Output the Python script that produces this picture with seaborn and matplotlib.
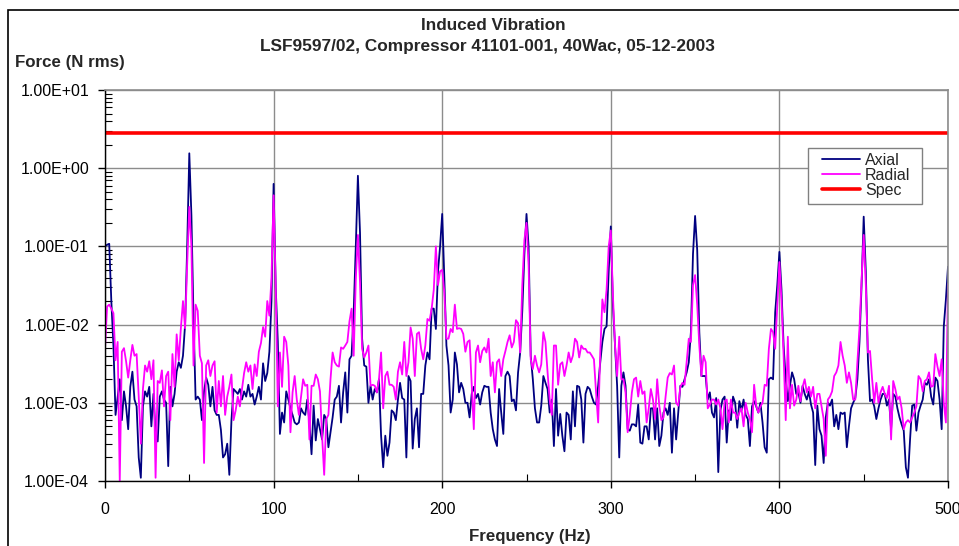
import numpy as np
import matplotlib
matplotlib.use("Agg")
import matplotlib.pyplot as plt
from matplotlib.patches import Rectangle
from matplotlib.ticker import FixedLocator, LogLocator, FuncFormatter, NullFormatter
import seaborn as sns

# frequency bins, 1.25 Hz resolution (0..500 Hz)
freq = np.linspace(0, 500, 401)

# Axial force (N rms)
axial = [
    # 0 - 48.75 Hz
    0.1, 0.105, 0.108, 0.02, 0.0054, 0.0007, 0.0012, 0.002, 0.0006, 0.0014,
    0.0009, 0.00046, 0.0016, 0.0025, 0.0011, 0.0009, 0.0002, 0.00011, 0.0009, 0.0014,
    0.0012, 0.0016, 0.0005, 0.0013, 0.0004, 0.00032, 0.0012, 0.0014, 0.0011, 0.001,
    0.000155, 0.0016, 0.0009, 0.0013, 0.0025, 0.0033, 0.0028, 0.004, 0.01, 0.1,
    # 50 - 98.75 Hz
    1.55, 0.25, 0.012, 0.0011, 0.0012, 0.0011, 0.0006, 0.0014, 0.0021, 0.0017,
    0.0009, 0.0016, 0.0008, 0.0007, 0.0007, 0.00045, 0.0002, 0.00022, 0.0003, 0.00012,
    0.0006, 0.0015, 0.0014, 0.0013, 0.0015, 0.0011, 0.0014, 0.0012, 0.0017, 0.0012,
    0.0013, 0.00095, 0.0012, 0.0016, 0.0011, 0.0032, 0.0019, 0.0024, 0.0045, 0.02,
    # 100 - 148.75 Hz
    0.63, 0.03, 0.006, 0.0004, 0.00075, 0.00056, 0.0014, 0.0011, 0.00085, 0.0007,
    0.00056, 0.00053, 0.00056, 0.00085, 0.00075, 0.0007, 0.0011, 0.00056, 0.00022, 0.00092,
    0.00033, 0.00062, 0.00046, 0.00034, 0.0007, 0.00062, 0.00027, 0.00042, 0.00065, 0.0011,
    0.0012, 0.00165, 0.00056, 0.00136, 0.00245, 0.00075, 0.0036, 0.004, 0.0144, 0.1,
    # 150 - 198.75 Hz
    0.8, 0.15, 0.0066, 0.003, 0.0029, 0.001, 0.00165, 0.0011, 0.0015, 0.00136,
    0.002, 0.00038, 0.00015, 0.00038, 0.00021, 0.00031, 0.0008, 0.00075, 0.0006, 0.0011,
    0.0018, 0.00115, 0.0011, 0.0002, 0.0022, 0.0019, 0.00026, 0.00062, 0.00085, 0.00027,
    0.0013, 0.0013, 0.003, 0.0044, 0.0036, 0.016, 0.016, 0.0088, 0.048, 0.1,
    # 200 - 248.75 Hz
    0.26, 0.04, 0.0054, 0.003, 0.00075, 0.0011, 0.0044, 0.0031, 0.00136, 0.0018,
    0.0015, 0.001, 0.001, 0.00065, 0.0013, 0.0016, 0.00115, 0.0013, 0.00095, 0.00136,
    0.00165, 0.0016, 0.0016, 0.00075, 0.00046, 0.00034, 0.00028, 0.0015, 0.00075, 0.0004,
    0.0022, 0.0025, 0.0022, 0.00105, 0.0011, 0.0008, 0.00245, 0.0044, 0.015, 0.08,
    # 250 - 298.75 Hz
    0.26, 0.1, 0.004, 0.002, 0.00085, 0.00056, 0.00056, 0.00092, 0.0022, 0.0018,
    0.0015, 0.00075, 0.0011, 0.00028, 0.0015, 0.00038, 0.00072, 0.00038, 0.00024, 0.00075,
    0.0007, 0.00034, 0.0014, 0.0005, 0.00165, 0.0016, 0.0011, 0.00031, 0.0013, 0.0016,
    0.0015, 0.0012, 0.001, 0.00095, 0.00165, 0.0033, 0.006, 0.0088, 0.0095, 0.048,
    # 300 - 348.75 Hz
    0.18, 0.018, 0.0054, 0.00165, 0.0002, 0.00165, 0.00245, 0.00165, 0.00046, 0.00044,
    0.00053, 0.00053, 0.0005, 0.00095, 0.00031, 0.0003, 0.0005, 0.0005, 0.00034, 0.00085,
    0.00085, 0.00034, 0.00085, 0.00028, 0.00038, 0.00075, 0.00085, 0.0007, 0.001, 0.00023,
    0.00085, 0.00034, 0.00075, 0.00165, 0.0016, 0.002, 0.00245, 0.0033, 0.008, 0.08,
    # 350 - 398.75 Hz
    0.245, 0.09, 0.008, 0.0022, 0.0022, 0.0022, 0.0011, 0.00136, 0.00075, 0.00065,
    0.00115, 0.00013, 0.0008, 0.0011, 0.0012, 0.00031, 0.0008, 0.0006, 0.0012, 0.001,
    0.00048, 0.00105, 0.0008, 0.0011, 0.0007, 0.00062, 0.00028, 0.0009, 0.00105, 0.0009,
    0.00075, 0.001, 0.00056, 0.00027, 0.00023, 0.002, 0.0021, 0.002, 0.0144, 0.032,
    # 400 - 448.75 Hz
    0.085, 0.028, 0.0054, 0.002, 0.00105, 0.00165, 0.00245, 0.002, 0.0013, 0.00136,
    0.001, 0.00165, 0.0013, 0.0011, 0.0014, 0.00095, 0.00075, 0.00016, 0.00092, 0.00046,
    0.00038, 0.00017, 0.00065, 0.001, 0.00092, 0.0011, 0.0005, 0.0007, 0.00046, 0.00075,
    0.00072, 0.00075, 0.00027, 0.0005, 0.00085, 0.001, 0.00115, 0.002, 0.006, 0.032,
    # 450 - 498.75 Hz
    0.24, 0.048, 0.0036, 0.00105, 0.0011, 0.0009, 0.00062, 0.00085, 0.0011, 0.0013,
    0.0013, 0.00092, 0.0011, 0.00046, 0.0013, 0.0012, 0.00085, 0.00065, 0.00053, 0.00044,
    0.00015, 0.00011, 0.00034, 0.00092, 0.00095, 0.00044, 0.00075, 0.00092, 0.0011, 0.0018,
    0.0017, 0.002, 0.0012, 0.00095, 0.0021, 0.0019, 0.0011, 0.00046, 0.0095, 0.021,
    # 500 Hz
    0.055,
]

# Radial force (N rms)
radial = [
    0.005, 0.017, 0.018, 0.016, 0.014, 0.0035, 0.006, 0.0001, 0.0045, 0.005,
    0.0034, 0.0021, 0.0035, 0.0055, 0.004, 0.0042, 0.0012, 0.0003, 0.0015, 0.003,
    0.0025, 0.0034, 0.002, 0.0035, 0.00011, 0.0019, 0.0018, 0.0026, 0.0009, 0.0022,
    0.0025, 0.0006, 0.0042, 0.0016, 0.0075, 0.0035, 0.009, 0.02, 0.009, 0.06,

    0.32, 0.1, 0.003, 0.018, 0.015, 0.004, 0.0032, 0.00017, 0.003, 0.0035,
    0.0022, 0.003, 0.0034, 0.00075, 0.0019, 0.0009, 0.0022, 0.0007, 0.0012, 0.0016,
    0.0023, 0.0006, 0.0008, 0.0012, 0.0009, 0.0015, 0.0024, 0.0033, 0.0025, 0.003,
    0.0015, 0.0031, 0.0022, 0.0045, 0.0058, 0.0093, 0.007, 0.02, 0.013, 0.04,

    0.45, 0.03, 0.0009, 0.0044, 0.0016, 0.007, 0.006, 0.003, 0.00042, 0.00136,
    0.0022, 0.0011, 0.0007, 0.0012, 0.002, 0.00165, 0.0017, 0.00034, 0.00165, 0.00165,
    0.0023, 0.002, 0.0014, 0.00038, 0.00012, 0.00062, 0.0007, 0.002, 0.0044, 0.0033,
    0.003, 0.0029, 0.0051, 0.0049, 0.0054, 0.006, 0.011, 0.016, 0.004, 0.038,

    0.14, 0.035, 0.0049, 0.0038, 0.0044, 0.0054, 0.00165, 0.0017, 0.00165, 0.00136,
    0.002, 0.0044, 0.00085, 0.0022, 0.0025, 0.0017, 0.0017, 0.0016, 0.0011, 0.0025,
    0.0033, 0.0023, 0.006, 0.0022, 0.0033, 0.0092, 0.0066, 0.0022, 0.0076, 0.008,
    0.0049, 0.0036, 0.0054, 0.0118, 0.0112, 0.016, 0.028, 0.1, 0.032, 0.048,

    0.05, 0.026, 0.0066, 0.0066, 0.0088, 0.008, 0.018, 0.0088, 0.009, 0.0088,
    0.0076, 0.0045, 0.006, 0.0063, 0.00165, 0.00046, 0.0044, 0.0054, 0.0033, 0.0046,
    0.0051, 0.0044, 0.0066, 0.0022, 0.0033, 0.00136, 0.0033, 0.0036, 0.0022, 0.0036,
    0.0046, 0.006, 0.0073, 0.0051, 0.006, 0.0114, 0.0104, 0.0044, 0.032, 0.12,

    0.2, 0.057, 0.0036, 0.0027, 0.004, 0.003, 0.00245, 0.0031, 0.008, 0.006,
    0.00245, 0.0011, 0.0007, 0.0054, 0.0054, 0.0017, 0.0031, 0.0033, 0.0022, 0.003,
    0.0044, 0.0033, 0.004, 0.0066, 0.006, 0.0038, 0.0054, 0.0049, 0.0049, 0.0044,
    0.0044, 0.004, 0.0036, 0.00136, 0.00056, 0.0044, 0.021, 0.0144, 0.028, 0.1,

    0.16, 0.024, 0.0054, 0.0022, 0.007, 0.002, 0.002, 0.00136, 0.00042, 0.0007,
    0.00136, 0.002, 0.0021, 0.0012, 0.0019, 0.0013, 0.0014, 0.00056, 0.00085, 0.0015,
    0.0011, 0.00062, 0.002, 0.00092, 0.0006, 0.00065, 0.0012, 0.0021, 0.0024, 0.0023,
    0.003, 0.001, 0.00092, 0.0016, 0.0018, 0.0017, 0.0033, 0.0066, 0.006, 0.032,

    0.043, 0.018, 0.0054, 0.0022, 0.004, 0.0033, 0.00085, 0.00095, 0.0011, 0.0011,
    0.00095, 0.0011, 0.00085, 0.00046, 0.00105, 0.0011, 0.00056, 0.0011, 0.00075, 0.00075,
    0.00062, 0.00075, 0.00085, 0.0005, 0.001, 0.00075, 0.00062, 0.00042, 0.0017, 0.00092,
    0.00075, 0.0009, 0.001, 0.0017, 0.00165, 0.0049, 0.0088, 0.008, 0.0049, 0.018,

    0.063, 0.02, 0.004, 0.0006, 0.007, 0.00085, 0.0017, 0.00092, 0.0011, 0.00165,
    0.00105, 0.0016, 0.002, 0.00136, 0.0016, 0.0012, 0.0016, 0.00085, 0.0013, 0.0013,
    0.0009, 0.00062, 0.00021, 0.0011, 0.0012, 0.0014, 0.0022, 0.00245, 0.003, 0.006,
    0.004, 0.003, 0.0018, 0.00245, 0.0018, 0.0011, 0.0011, 0.0033, 0.009, 0.038,

    0.14, 0.032, 0.0044, 0.0046, 0.002, 0.001, 0.0018, 0.001, 0.00136, 0.0016,
    0.0013, 0.00115, 0.00165, 0.00034, 0.0019, 0.0015, 0.0011, 0.0012, 0.00085, 0.00046,
    0.00056, 0.0006, 0.00056, 0.00065, 0.00075, 0.0009, 0.0022, 0.002, 0.0014, 0.0019,
    0.002, 0.00245, 0.0016, 0.00165, 0.0042, 0.0029, 0.0022, 0.0036, 0.001, 0.00056,

    0.033,
]

# spec limit
spec_freq = [0, 500]
spec_level = [2.85, 2.85]

x_ticks = [0, 100, 200, 300, 400, 500]
x_minor = [50, 150, 250, 350, 450]
y_ticks = [1e-4, 1e-3, 1e-2, 1e-1, 1e0, 1e1]

sns.set_style("white")
plt.rcParams["font.family"] = ["Liberation Sans", "DejaVu Sans"]

W, H = 959, 546
fig = plt.figure(figsize=(W / 100, H / 100), dpi=100)
ax = fig.add_axes([105 / W, 1 - 481 / H, (948 - 105) / W, (481 - 90) / H])

sns.lineplot(x=freq, y=axial, ax=ax, color="#000080", lw=1.3, label="Axial")
sns.lineplot(x=freq, y=radial, ax=ax, color="#ff00ff", lw=1.3, label="Radial")
sns.lineplot(x=spec_freq, y=spec_level, ax=ax, color="#ff0000", lw=2.6, label="Spec")

ax.set_yscale("log")
ax.set_xlim(0, 500)
ax.set_ylim(1e-4, 1e1)
ax.set_xticks(x_ticks)
ax.xaxis.set_minor_locator(FixedLocator(x_minor))
ax.set_yticks(y_ticks)
ax.yaxis.set_minor_locator(LogLocator(base=10, subs=range(2, 10)))
ax.yaxis.set_minor_formatter(NullFormatter())
ax.yaxis.set_major_formatter(FuncFormatter(lambda v, p: f"{v:.2E}"))

ax.tick_params(which="major", direction="out", length=5, width=1,
               labelsize=11.5, color="black", labelcolor="black")
ax.tick_params(which="minor", direction="in", length=5, width=0.8, color="black")
ax.tick_params(axis="y", which="major", pad=6.5)
ax.tick_params(axis="x", which="major", pad=10)
ax.tick_params(left=True, bottom=True, which="both")

ax.grid(which="major", color="#8c8c8c", lw=1)
ax.set_axisbelow(True)
for s in ["top", "right"]:
    ax.spines[s].set_color("#8c8c8c")
    ax.spines[s].set_linewidth(1.2)
for s in ["left", "bottom"]:
    ax.spines[s].set_color("black")
    ax.spines[s].set_linewidth(1)
ax.set_xlabel("")
ax.set_ylabel("")

# legend: entries without frame, box drawn separately (Excel-like padding)
leg = ax.legend(loc="upper left", bbox_to_anchor=(822 / W, 1 - 153 / H),
                bbox_transform=fig.transFigure, frameon=False, fontsize=11.5,
                labelspacing=0, handlelength=2.4, handletextpad=0.3,
                borderpad=0, borderaxespad=0)
fig.add_artist(Rectangle((808 / W, 1 - 204 / H), (922 - 808) / W, (204 - 148) / H,
                         transform=fig.transFigure, fill=True, fc="white",
                         ec="#808080", lw=1, zorder=2))
leg.set_zorder(3)
fig.add_artist(leg)

# titles and axis labels
fig.text(493 / W, 1 - 25 / H, "Induced Vibration", ha="center", va="center",
         fontsize=12.3, fontweight="bold")
fig.text(487 / W, 1 - 46 / H, "LSF9597/02, Compressor 41101-001, 40Wac, 05-12-2003",
         ha="center", va="center", fontsize=12.4, fontweight="bold")
fig.text(15 / W, 1 - 62 / H, "Force (N rms)", ha="left", va="center",
         fontsize=12.2, fontweight="bold")
fig.text(530 / W, 1 - 537 / H, "Frequency (Hz)", ha="center", va="center",
         fontsize=12.2, fontweight="bold")

# chart area border
fig.add_artist(Rectangle((8 / W, -0.5), 2, 1 - 10 / H + 0.5, transform=fig.transFigure,
                         fill=False, ec="black", lw=1.2))

fig.savefig("out.png", dpi=100)
